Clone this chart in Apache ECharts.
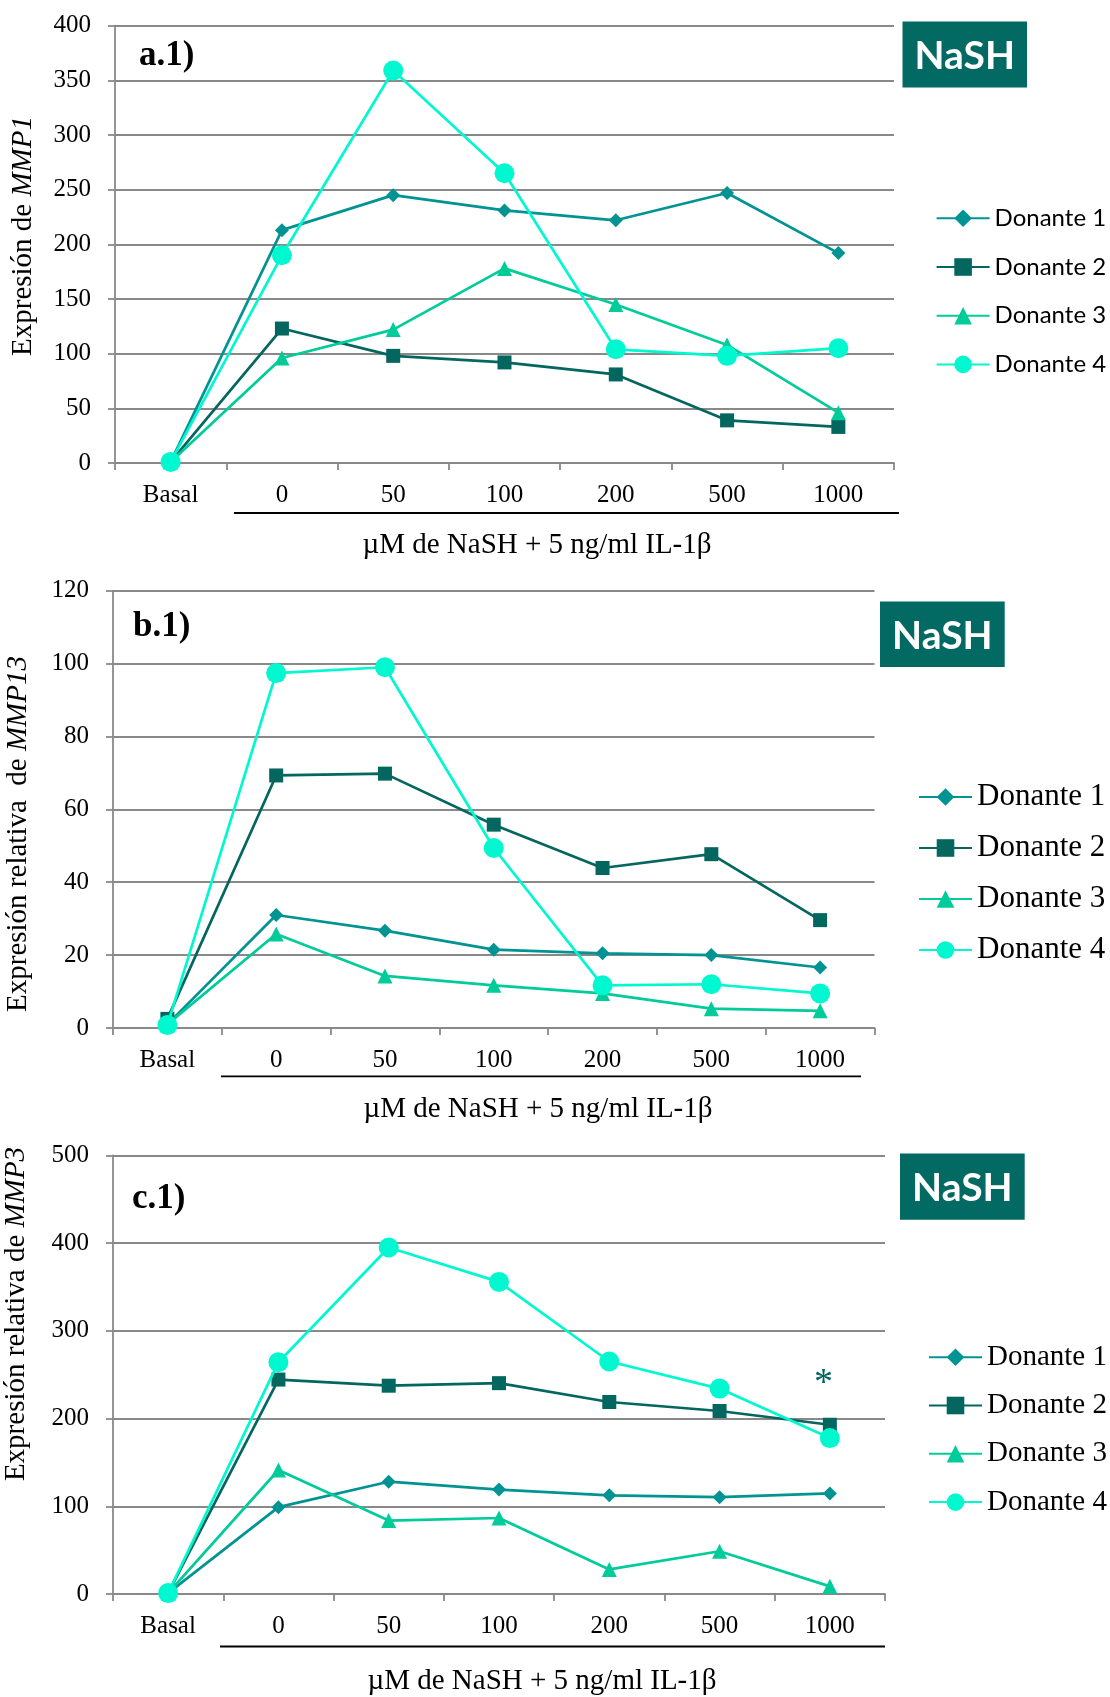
<!DOCTYPE html>
<html>
<head>
<meta charset="utf-8">
<script src="https://cdn.jsdelivr.net/npm/echarts@6/dist/echarts.min.js"></script>
<style>
  html, body { margin: 0; padding: 0; background: #ffffff; }
  #chart { width: 1110px; height: 1697px; }
</style>
</head>
<body>
<div id="chart"></div>
<script>
// Concentration categories (µM NaSH) shared by the three panels
const categories = ['Basal', '0', '50', '100', '200', '500', '1000'];
const donors = ['Donante 1', 'Donante 2', 'Donante 3', 'Donante 4'];

// a.1) MMP1 expression
const mmp1D1 = [1, 213, 245, 231, 222, 247, 192];
const mmp1D2 = [1, 123, 98, 92, 81, 39, 33];
const mmp1D3 = [1, 96, 122, 178, 145, 108, 46];
const mmp1D4 = [1, 190, 359, 265, 104, 98, 105];

// b.1) MMP13 relative expression
const mmp13D1 = [1, 31, 26.7, 21.5, 20.5, 20, 16.6];
const mmp13D2 = [2.5, 69.3, 69.8, 55.8, 43.9, 47.7, 29.6];
const mmp13D3 = [1, 25.8, 14.3, 11.7, 9.5, 5.3, 4.7];
const mmp13D4 = [0.8, 97.4, 99, 49.4, 11.7, 12, 9.5];

// c.1) MMP3 relative expression
const mmp3D1 = [1, 99, 128, 119, 112.5, 110.4, 114.6];
const mmp3D2 = [1, 244.4, 237.4, 240.3, 218.8, 208.6, 192.9];
const mmp3D3 = [1, 141.3, 83.7, 86.6, 28, 48.7, 8.7];
const mmp3D4 = [1, 264.2, 394.9, 355.7, 265, 234.1, 177.7];

// y-axis ranges: [max, interval]
const yScaleA = [400, 50];
const yScaleB = [120, 20];
const yScaleC = [500, 100];

const panelData = [
  [mmp1D1, mmp1D2, mmp1D3, mmp1D4],
  [mmp13D1, mmp13D2, mmp13D3, mmp13D4],
  [mmp3D1, mmp3D2, mmp3D3, mmp3D4]
];
const yScales = [yScaleA, yScaleB, yScaleC];

const donorColors = ['#009393', '#03665f', '#00cc99', '#00f8d0'];
const donorSymbols = ['diamond', 'rect', 'triangle', 'circle'];
const donorSymbolSizes = [14, 14, 15, 20];

const SERIF = '"Liberation Serif", "Times New Roman", serif';
const SANS = 'Lato, "Open Sans", sans-serif';
const GRID_COLOR = '#898989';

const grids = [
  { left: 115, top: 25.7, width: 779, height: 437.3 },
  { left: 113, top: 590.7, width: 761.5, height: 437.3 },
  { left: 113, top: 1155.3, width: 772, height: 438.7 }
].map(g => Object.assign({ outerBoundsMode: 'none', containLabel: false }, g));

const xAxes = grids.map((g, i) => ({
  gridIndex: i,
  type: 'category',
  data: categories,
  boundaryGap: true,
  axisLine: { show: true, lineStyle: { color: GRID_COLOR, width: 1.8 } },
  axisTick: { show: true, interval: 0, length: 7, alignWithLabel: false,
              lineStyle: { color: GRID_COLOR, width: 1.8 } },
  axisLabel: { interval: 0, color: '#000', fontFamily: SERIF, fontSize: 25, margin: 20 },
  splitLine: { show: false }
}));

const yAxes = grids.map((g, i) => ({
  gridIndex: i,
  type: 'value',
  min: 0,
  max: yScales[i][0],
  interval: yScales[i][1],
  axisLine: { show: true, lineStyle: { color: GRID_COLOR, width: 1.8 } },
  axisTick: { show: true, length: 7, lineStyle: { color: GRID_COLOR, width: 1.8 } },
  axisLabel: { color: '#000', fontFamily: SERIF, fontSize: 25, margin: 24 },
  splitLine: { show: true, lineStyle: { color: GRID_COLOR, width: 1.8 } }
}));

const series = [];
panelData.forEach((panel, p) => {
  panel.forEach((values, d) => {
    series.push({
      name: donors[d],
      type: 'line',
      xAxisIndex: p,
      yAxisIndex: p,
      data: values,
      symbol: donorSymbols[d],
      symbolSize: donorSymbolSizes[d],
      showAllSymbol: true,
      lineStyle: { color: donorColors[d], width: 2.7 },
      itemStyle: { color: donorColors[d] },
      emphasis: { disabled: true },
      z: 2 + d
    });
  });
});

const legends = [
  { left: 935.6, top: 206.3, itemGap: 24.7, font: SANS, size: 24 },
  { left: 918, top: 781.5, itemGap: 20, font: SERIF, size: 31 },
  { left: 928, top: 1342.7, itemGap: 19.3, font: SERIF, size: 29 }
].map(l => ({
  orient: 'vertical',
  left: l.left,
  top: l.top,
  padding: 0,
  itemGap: l.itemGap,
  itemWidth: 53,
  itemHeight: 22,
  data: donors,
  selectedMode: false,
  textStyle: { color: '#000', fontFamily: l.font, fontSize: l.size }
}));

// Decorations: panel tags, NaSH badges, axis titles and the bracket line under the doses
function badge(x, y, w, h) {
  return {
    type: 'group',
    children: [
      { type: 'rect', shape: { x: x, y: y, width: w, height: h }, style: { fill: '#036963' } },
      { type: 'text', x: x + w / 2, y: y + h / 2 + 2,
        style: { text: 'NaSH', fill: '#ffffff', font: 'bold 39px ' + SANS,
                 align: 'center', verticalAlign: 'middle' } }
    ]
  };
}
function panelTag(label, x, y) {
  return { type: 'text', x: x, y: y,
           style: { text: label, fill: '#000', font: 'bold 35px ' + SERIF,
                    align: 'left', verticalAlign: 'middle' } };
}
function xTitle(x, y) {
  return { type: 'text', x: x, y: y,
           style: { text: 'µM de NaSH + 5 ng/ml IL-1β', fill: '#000', font: '29px ' + SERIF,
                    align: 'center', verticalAlign: 'middle' } };
}
function yTitle(prefix, gene, x, y) {
  return { type: 'text', x: x, y: y, rotation: Math.PI / 2,
           style: { text: '{r|' + prefix + '}{i|' + gene + '}', fill: '#000',
                    align: 'center', verticalAlign: 'middle',
                    rich: { r: { fontFamily: SERIF, fontSize: 29, fill: '#000' },
                            i: { fontFamily: SERIF, fontSize: 29, fontStyle: 'italic', fill: '#000' } } } };
}
function bracket(x1, x2, y) {
  return { type: 'line', shape: { x1: x1, y1: y, x2: x2, y2: y },
           style: { stroke: '#000', lineWidth: 1.8 } };
}

const graphics = [
  panelTag('a.1)', 139, 56),
  panelTag('b.1)', 133, 627),
  panelTag('c.1)', 132, 1198.7),
  badge(902.5, 21.4, 124.5, 66.1),
  badge(880, 601.4, 124.7, 65.6),
  badge(900, 1153.5, 124.7, 66.2),
  xTitle(537, 545),
  xTitle(538, 1109),
  xTitle(542, 1681),
  yTitle('Expresión de ', 'MMP1', 23, 236),
  yTitle('Expresión relativa  de ', 'MMP13', 18, 834),
  yTitle('Expresión relativa de ', 'MMP3', 16, 1314),
  bracket(234, 899, 513),
  bracket(221, 861, 1076.4),
  bracket(220, 885, 1646.5),
  { type: 'text', x: 823.6, y: 1384,
    style: { text: '*', fill: '#03665f', font: '38px ' + SERIF, align: 'center', verticalAlign: 'middle' } }
];

const chart = echarts.init(document.getElementById('chart'), null, { renderer: 'canvas' });
chart.setOption({
  backgroundColor: '#ffffff',
  animation: false,
  grid: grids,
  xAxis: xAxes,
  yAxis: yAxes,
  legend: legends,
  series: series,
  graphic: graphics
});
</script>
</body>
</html>
